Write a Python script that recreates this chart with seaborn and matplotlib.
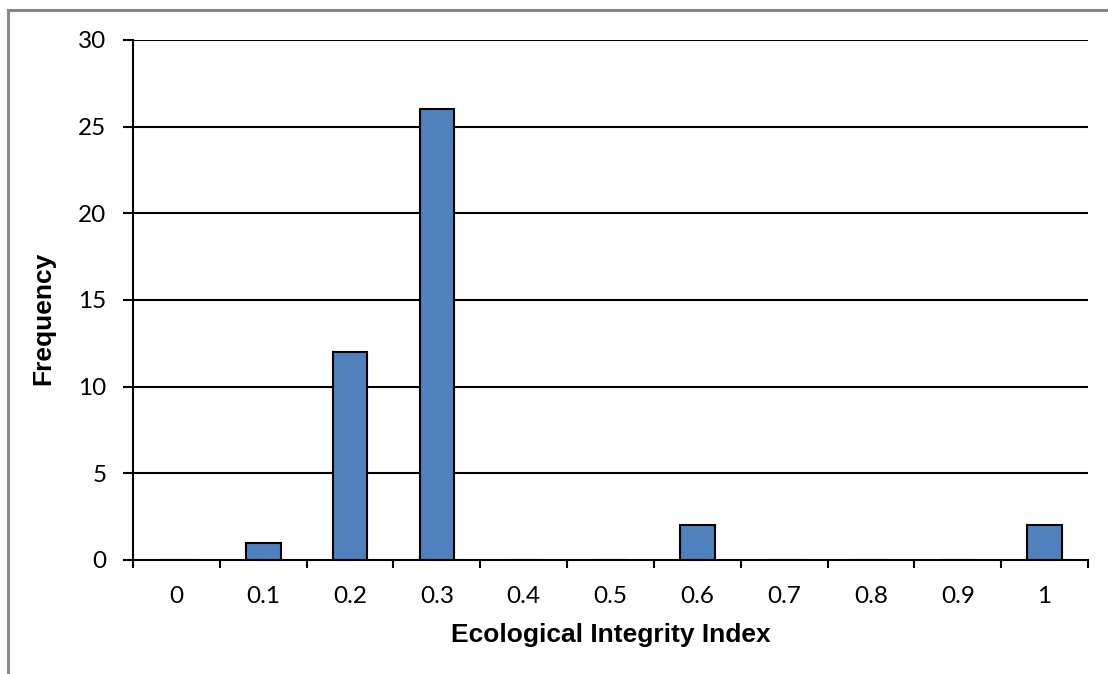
import matplotlib
matplotlib.use("Agg")
import matplotlib.pyplot as plt
import seaborn as sns
import pandas as pd
import numpy as np
from matplotlib.patches import Rectangle

# data
bins = ["0", "0.1", "0.2", "0.3", "0.4", "0.5", "0.6", "0.7", "0.8", "0.9", "1"]
freq = [0, 1, 12, 26, 0, 0, 2, 0, 0, 0, 2]
y_ticks = [0, 5, 10, 15, 20, 25, 30]

df = pd.DataFrame({"bin": bins, "freq": freq})

sns.set_style("white")
plt.rcParams["font.family"] = ["Lato", "DejaVu Sans"]
plt.rcParams["text.color"] = "black"
plt.rcParams["axes.labelcolor"] = "black"
plt.rcParams["xtick.labelcolor"] = "black"
plt.rcParams["ytick.labelcolor"] = "black"

fig = plt.figure(figsize=(11.08, 6.74), dpi=100)
ax = fig.add_axes([133 / 1108, 1 - 560 / 674, (1088 - 133) / 1108, (560 - 40) / 674])

# gray chart-area border (clipped at right/bottom like the original)
fig.patches.append(Rectangle((8 / 1108, -0.1), 1.2, 1 - 10 / 674 + 0.1,
                             transform=fig.transFigure, fill=False,
                             edgecolor="#888888", linewidth=2.2, zorder=0))

# horizontal gridlines
for v in y_ticks[1:]:
    ax.axhline(v, color="black", linewidth=1.5, zorder=1)

sns.barplot(data=df, x="bin", y="freq", order=bins, color="#4F81BD",
            saturation=1, width=0.4, edgecolor="black", linewidth=1.5,
            zorder=2, ax=ax)

ax.set_xlim(-0.5, len(bins) - 0.5)
ax.set_ylim(0, 30)
ax.set_yticks(y_ticks)
ax.set_yticklabels([str(v) for v in y_ticks], fontsize=17.5)

# tick marks at category boundaries, labels at centres
ax.set_xticks(np.arange(-0.5, len(bins), 1.0))
ax.set_xticklabels([])
ax.set_xticks(np.arange(len(bins)), minor=True)
ax.set_xticklabels(bins, minor=True, fontsize=17.5)
ax.tick_params(axis="x", which="major", direction="out", length=6, width=1.5,
               color="black", bottom=True)
ax.tick_params(axis="x", which="minor", length=0, pad=19, labelcolor="black")
ax.tick_params(axis="y", direction="out", length=7, width=1.5, color="black",
               left=True, pad=12, labelcolor="black")

for side in ["top", "right"]:
    ax.spines[side].set_visible(False)
for side in ["left", "bottom"]:
    ax.spines[side].set_color("black")
    ax.spines[side].set_linewidth(1.5)

ax.set_xlabel("Ecological Integrity Index", fontsize=19, fontweight="bold",
              family=["Liberation Sans", "DejaVu Sans"], labelpad=11, color="black")
ax.set_ylabel("Frequency", fontsize=19, fontweight="bold",
              family=["Liberation Sans", "DejaVu Sans"], color="black")
ax.yaxis.set_label_coords(-0.0817, 0.465)

fig.savefig("out.png", dpi=100)
